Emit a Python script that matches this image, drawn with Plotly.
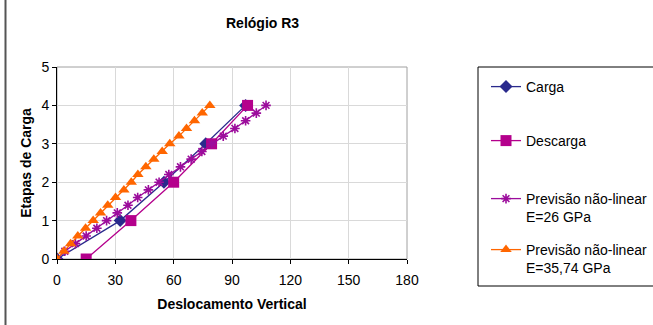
import plotly.graph_objects as go

# Measured displacement for each load stage
carga_x = [0, 32.5, 55, 76.5, 97]
carga_y = [0, 1, 2, 3, 4]

descarga_x = [98, 79.5, 60, 38, 15]
descarga_y = [4, 3, 2, 1, 0]

# Non-linear predictions, load stages every 0.2
prev_y = [0, 0.2, 0.4, 0.6, 0.8, 1.0, 1.2, 1.4, 1.6, 1.8, 2.0,
          2.2, 2.4, 2.6, 2.8, 3.0, 3.2, 3.4, 3.6, 3.8, 4.0]
prev26_x = [0, 4, 9.5, 15, 20.5, 25.5, 31, 36.5, 41.5, 47, 52.5,
            57.5, 63.5, 69, 74.5, 79.5, 85.5, 91.5, 97, 102.5, 107.5]
prev35_x = [0, 3.5, 7, 10.7, 14.7, 18.6, 22.4, 26.1, 30.1, 34.4, 38.2,
            41.6, 45.7, 49.8, 54.1, 58, 62.7, 66.6, 70.7, 74.7, 78.6]

x_ticks = [0, 30, 60, 90, 120, 150, 180]
y_ticks = [0, 1, 2, 3, 4, 5]

W, H = 653, 325
ML, MR, MT, MB = 57, 246, 67, 66
PW, PH = W - ML - MR, H - MT - MB

FONT = "Arial, Liberation Sans, sans-serif"


def px(x):
    return (x - ML) / PW


def py(y):
    return (H - MB - y) / PH


fig = go.Figure()

fig.add_trace(go.Scatter(
    x=carga_x, y=carga_y, mode="lines+markers", name="Carga",
    line=dict(color="#2A2A8C", width=1.3),
    marker=dict(symbol="diamond", size=10, color="#2A2A8C"),
    legend="legend",
))
fig.add_trace(go.Scatter(
    x=descarga_x, y=descarga_y, mode="lines+markers", name="Descarga",
    line=dict(color="#B4008C", width=1.3),
    marker=dict(symbol="square", size=11, color="#B4008C"),
    legend="legend2",
))
fig.add_trace(go.Scatter(
    x=prev26_x, y=prev_y, mode="lines+markers",
    name="Previsão não-linear<br>E=26 GPa",
    line=dict(color="#9C0C9C", width=1.3),
    marker=dict(symbol="asterisk-open", size=8,
                line=dict(color="#9C0C9C", width=1.6)),
    legend="legend3",
))
fig.add_trace(go.Scatter(
    x=prev35_x, y=prev_y, mode="lines+markers",
    name="Previsão não-linear<br>E=35,74 GPa",
    line=dict(color="#FF6600", width=1.3),
    marker=dict(symbol="triangle-up", size=10, color="#FF6600"),
    legend="legend4",
))

leg_common = dict(
    xref="paper", yref="paper", xanchor="left",
    bgcolor="rgba(0,0,0,0)", borderwidth=0,
    font=dict(family=FONT, size=14, color="black"),
    valign="top",
)
leg_x = px(486)
fig.update_layout(
    legend=dict(x=leg_x, y=py(87), yanchor="middle", **leg_common),
    legend2=dict(x=leg_x, y=py(141), yanchor="middle", **leg_common),
    legend3=dict(x=leg_x, y=py(208), yanchor="middle", **leg_common),
    legend4=dict(x=leg_x, y=py(259), yanchor="middle", **leg_common),
)

shapes = [
    # plot area frame (top/right edges in gray)
    dict(type="rect", xref="paper", yref="paper", x0=0, x1=1, y0=0, y1=1,
         line=dict(color="#A0A0A0", width=1), layer="below"),
    # legend frame
    dict(type="rect", xref="paper", yref="paper",
         x0=px(478), x1=px(665), y0=py(286), y1=py(67),
         line=dict(color="#000000", width=1)),
    # chart area edge
    dict(type="line", xref="paper", yref="paper",
         x0=px(5.5), x1=px(5.5), y0=py(-5), y1=py(330),
         line=dict(color="#555555", width=2)),
]

fig.update_layout(
    width=W, height=H,
    margin=dict(l=ML, r=MR, t=MT, b=MB, autoexpand=False),
    paper_bgcolor="white", plot_bgcolor="white",
    font=dict(family=FONT, size=14, color="black"),
    showlegend=True,
    shapes=shapes,
    annotations=[dict(
        text="<b>Relógio R3</b>", xref="paper", yref="paper",
        x=px(262), y=py(23), xanchor="center", yanchor="middle",
        showarrow=False, font=dict(family=FONT, size=14, color="black"),
    )],
)

fig.update_xaxes(
    range=[0, 180], tickvals=x_ticks, ticktext=[str(v) for v in x_ticks],
    showgrid=True, gridcolor="#D9D9D9", gridwidth=1,
    showline=True, linecolor="black", linewidth=1,
    ticks="outside", ticklen=4, tickcolor="black",
    ticklabelstandoff=4,
    zeroline=False,
    tickfont=dict(family=FONT, size=14, color="black"),
    title=dict(text="<b>Deslocamento Vertical</b>", standoff=12,
               font=dict(family=FONT, size=14, color="black")),
)
fig.update_yaxes(
    range=[0, 5], tickvals=y_ticks, ticktext=[str(v) for v in y_ticks],
    showgrid=True, gridcolor="#D9D9D9", gridwidth=1,
    showline=True, linecolor="black", linewidth=1,
    ticks="outside", ticklen=4, tickcolor="black",
    zeroline=False,
    tickfont=dict(family=FONT, size=14, color="black"),
    title=dict(text="<b>Etapas de Carga</b>", standoff=6,
               font=dict(family=FONT, size=14, color="black")),
)

fig.write_html("out.html")
